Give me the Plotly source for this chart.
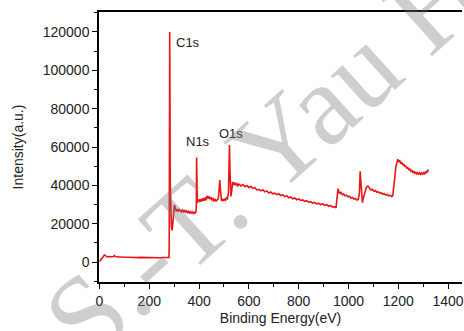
import plotly.graph_objects as go

# XPS survey spectrum: binding energy (eV) vs intensity (a.u.)
energy_ev = [
    0, 4, 8, 12, 16, 20, 24, 28, 32, 38, 44, 50, 56, 60, 64, 70, 76, 84, 92, 100,
    108, 116, 124, 132, 140, 148, 156, 164, 172, 180, 188, 196, 204, 212, 220, 228,
    236, 244, 252, 260, 268, 274, 279,
    280, 281, 282, 283, 284, 286, 289, 292, 295, 298, 301, 304, 308, 312, 316, 320,
    324, 328, 332, 336, 340, 344, 348, 352, 356, 360, 364, 368, 372, 376, 380, 384, 388,
    389, 390, 391, 392, 393, 396, 400, 404, 408, 412, 416, 420, 424, 428, 432, 436,
    440, 444, 448, 452, 456, 460, 464, 468, 472, 476, 479,
    481, 483, 485, 487, 490, 494, 498, 502, 506, 510, 514, 518, 520, 522, 524, 526,
    528, 531, 535, 539, 543, 547, 551, 555,
    560, 568, 576, 584, 592, 600, 608, 616, 624, 632, 640, 648, 656, 664, 672, 680,
    688, 696, 704, 712, 720, 728, 736, 744, 752, 760, 768, 776, 784, 792, 800, 808,
    816, 824, 832, 840, 848, 856, 864, 872, 880, 888, 896, 904, 912, 920, 928, 936,
    944, 950,
    952, 955, 958, 962, 966, 970, 975, 980, 986, 992, 998, 1004, 1010, 1016, 1022,
    1028, 1034, 1040, 1044, 1047, 1050, 1053, 1056, 1060, 1066, 1072, 1078, 1084,
    1090, 1096, 1102, 1108, 1114, 1120, 1126, 1132, 1138, 1144, 1150, 1156, 1162,
    1168, 1174, 1178,
    1182, 1186, 1190, 1194, 1198, 1202, 1206, 1210, 1214, 1218, 1222, 1226, 1230,
    1234, 1238, 1242, 1246, 1250, 1254, 1258, 1262, 1266, 1270, 1274, 1278, 1282,
    1286, 1290, 1294, 1298, 1302, 1306, 1310, 1314, 1318, 1322,
]

intensity = [
    300, 900, 1700, 2500, 3100, 3600, 3300, 2900, 2700, 2800, 2600, 2750, 2900, 3400,
    2900, 2700, 2600, 2650, 2500, 2550, 2450, 2500, 2400, 2450, 2350, 2450, 2300, 2400,
    2350, 2250, 2350, 2300, 2250, 2350, 2300, 2200, 2300, 2250, 2350, 2250, 2300, 2350,
    2400,
    9000, 62000, 120000, 88000, 42000, 23000, 18500, 16500, 19500, 25500, 29800, 28600,
    26400, 27300, 26600, 27400, 26800, 26300, 27100, 26200, 26900, 26000, 26700, 25800,
    26500, 25600, 26300, 25500, 26200, 25400, 26000, 25300, 26500,
    30000, 54500, 42000, 33000, 30800, 31800, 32600, 31400, 32900, 31700, 33200, 32000,
    33600, 32200, 34500, 33100, 34200, 32800, 33500, 32400, 33100, 31900, 32600, 31800,
    32500, 32800, 35000,
    38000, 42800, 39000, 33500, 32000, 32600, 31800, 33000, 32300, 33400, 33000, 36000,
    45000, 61000, 48000, 36500, 34200, 37000, 41800, 40200, 41500, 40000, 40800, 39800,
    40600, 39700, 40400, 39300, 39900, 38800, 39500, 38400, 38900, 37600, 37900, 37100,
    37700, 36600, 37100, 36000, 36500, 35600, 35900, 35200, 35600, 34700, 35000, 34100,
    34600, 33500, 33900, 33000, 33400, 32500, 32900, 32100, 32400, 31600, 32000, 31200,
    31500, 30700, 31100, 30300, 30700, 29900, 30300, 29500, 29900, 29100, 29500, 28600,
    28900, 28200,
    31000, 37500, 38300, 36400, 35800, 36300, 35100, 35500, 34600, 34900, 34000, 34300,
    33400, 33700, 32800, 33100, 32300, 32900, 36000, 47300, 41000, 32000, 31000, 33500,
    36800, 39000, 39600, 38400, 37600, 38000, 36900, 37300, 36400, 36700, 35800, 36100,
    35300, 35600, 34900, 35200, 34500, 34800, 34200, 34600,
    38000, 44000, 49500, 52500, 53600, 52400, 52800, 51600, 51900, 50800, 51000, 49900,
    50100, 49000, 49200, 48200, 48500, 47400, 47800, 46800, 47200, 46300, 46800, 46000,
    46600, 45800, 46500, 45700, 46400, 45800, 46600, 46000, 47200, 46400, 48000, 47200,
]

peak_names = ["C1s", "N1s", "O1s"]
peak_label_x = [354, 394, 528]
peak_label_y = [114400, 62800, 66900]

x_tick_values = [0, 200, 400, 600, 800, 1000, 1200, 1400]
y_tick_values = [0, 20000, 40000, 60000, 80000, 100000, 120000]

font_family = "Liberation Sans, Arial, sans-serif"

fig = go.Figure()
fig.add_trace(go.Scatter(
    x=energy_ev, y=intensity, mode="lines",
    line=dict(color="#ec1515", width=1.6),
    showlegend=False, hoverinfo="skip",
))

for name, lx, ly in zip(peak_names, peak_label_x, peak_label_y):
    fig.add_annotation(x=lx, y=ly, text=name, showarrow=False,
                       xref="x", yref="y",
                       font=dict(family=font_family, size=13, color="#222222"))

# faint diagonal watermark lying over the plot
fig.add_annotation(x=0.455, y=0.47, xref="paper", yref="paper",
                   text="S.-T. Yau H", showarrow=False, textangle=-42,
                   xanchor="center", yanchor="middle",
                   font=dict(family="Liberation Serif, Times New Roman, serif",
                             size=116, color="rgba(120,120,120,0.36)"))

axis_common = dict(
    showline=True, linecolor="black", linewidth=1.5,
    ticks="outside", ticklen=5, tickwidth=1.2, tickcolor="black",
    showgrid=False, zeroline=False, ticklabeloverflow="allow",
    tickfont=dict(family=font_family, size=14, color="#222222"),
)

fig.update_xaxes(
    **axis_common, range=[-2, 1456], tickvals=x_tick_values, mirror=True,
    tickformat="d",
    minor=dict(dtick=100, ticks="outside", ticklen=3, tickwidth=1, tickcolor="black"),
    title=dict(text="Binding Energy(eV)", standoff=6,
               font=dict(family=font_family, size=14, color="#222222")),
)
fig.update_yaxes(
    **axis_common, range=[-10430, 130430], tickvals=y_tick_values,
    tickformat="d",
    minor=dict(dtick=10000, ticks="outside", ticklen=3, tickwidth=1, tickcolor="black"),
    title=dict(text="Intensity(a.u.)", standoff=16,
               font=dict(family=font_family, size=14, color="#222222")),
)

fig.update_layout(
    width=464, height=331,
    margin=dict(l=99, r=0, t=12, b=49),
    paper_bgcolor="white", plot_bgcolor="white",
)

fig.write_html("out.html")
